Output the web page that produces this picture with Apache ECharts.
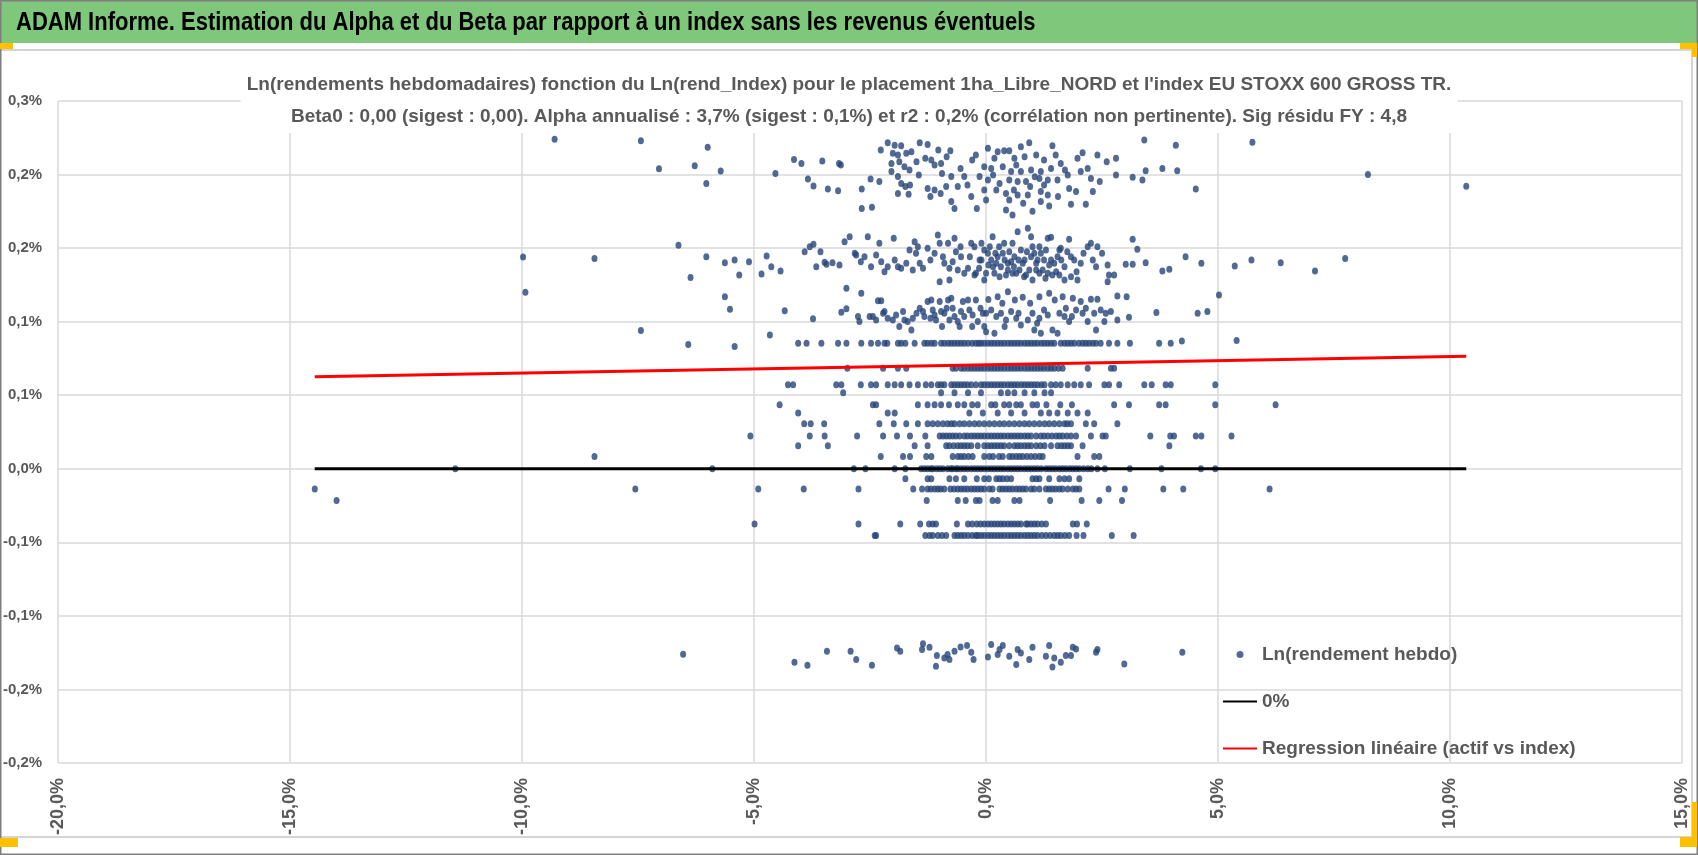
<!DOCTYPE html>
<html style="height: 100%">
<head>
<meta charset="utf-8">
<style type="text/css">
* {
	margin: 0;
	padding: 0;
}
</style>
</head>
<body style="height: 100%; margin: 0; background: #fff">
	<div id="chart" style="width: 1698px; height: 855px"></div>
	<script type="text/javascript" src="https://cdn.jsdelivr.net/npm/echarts/dist/echarts.min.js"></script>
	<script type="text/javascript">
	// valeurs en % : x = Ln(rend_Index), y = Ln(rendement hebdo)

	// nuage du haut (0,17% .. 0,23%)
	var scatterTop = [
		[-6.00,0.2185],[-5.72,0.2024],[-6.03,0.194],[-4.14,0.2103],[-3.98,0.2076],[-4.54,0.2008],[-3.53,0.2092],[-3.17,0.2076],
		[-3.13,0.2065],[-3.84,0.197],[-3.72,0.1922],[-3.41,0.1902],[-3.19,0.189],[-2.68,0.1902],[-2.49,0.197],[-2.68,0.177],
		[-2.46,0.1777],[-2.27,0.2167],[-2.12,0.2216],[-1.97,0.22],[-1.83,0.2196],[-2.01,0.2144],[-1.90,0.2133],[-1.72,0.2144],
		[-1.61,0.2155],[-1.43,0.2216],[-1.26,0.2205],[-2.04,0.2076],[-1.87,0.2087],[-1.76,0.2053],[-1.65,0.2031],[-2.04,0.202],
		[-1.90,0.1986],[-1.83,0.194],[-1.74,0.1918],[-1.64,0.1929],[-1.90,0.1872],[-1.67,0.1866],[-1.31,0.211],[-1.18,0.2099],
		[-1.03,0.2167],[-1.11,0.2065],[-0.97,0.2076],[-0.77,0.2162],[-0.95,0.2008],[-0.75,0.1986],[-0.61,0.1918],[-0.47,0.1986],
		[-1.26,0.1906],[-1.20,0.185],[-1.11,0.1895],[-0.98,0.1872],[-0.86,0.1918],[-0.75,0.1816],[-0.68,0.177],[-0.32,0.185],
		[-0.22,0.2133],[-0.14,0.1986],[-0.04,0.2053],[-0.04,0.1895],[0.00,0.1827],
		[0.04,0.2178],[0.39,0.2162],[0.50,0.2162],[0.75,0.2189],[0.93,0.2216],[1.43,0.2196],[0.18,0.211],[0.61,0.211],
		[0.83,0.2121],[1.08,0.2133],[0.11,0.2042],[0.36,0.2053],[0.54,0.202],[0.75,0.202],[0.97,0.2031],[1.18,0.202],
		[1.40,0.2042],[1.61,0.2076],[0.04,0.1963],[0.29,0.194],[0.50,0.1963],[0.68,0.1952],[0.86,0.1952],[1.15,0.1974],
		[1.33,0.1963],[1.54,0.1963],[1.76,0.1997],[2.04,0.202],[2.19,0.2042],[0.22,0.1895],[0.43,0.1872],[0.68,0.1861],
		[0.90,0.1861],[1.18,0.1884],[1.33,0.1861],[1.79,0.1906],[1.94,0.1884],[0.50,0.1827],[0.43,0.1759],[0.57,0.1725],
		[1.18,0.1816],[1.36,0.1786],[1.83,0.1798],[2.15,0.1798],[1.97,0.211],[2.08,0.2149],[2.40,0.2133],[2.80,0.211],
		[2.80,0.1997],[3.16,0.1981],[3.37,0.1963],[3.41,0.2235],[3.44,0.2026],[3.80,0.2042],[4.12,0.2026],[4.09,0.22],
		[4.52,0.1902],[5.74,0.2219],[2.26,0.1974],
		[0.25,0.2155],[0.65,0.2065],[1.25,0.2099],[1.50,0.2133],[0.15,0.1997],[0.95,0.1918],[1.05,0.1985],[1.70,0.2031],
		[1.25,0.1929],[0.60,0.1895],[-0.55,0.2042],[-0.30,0.2099],[-0.85,0.2121],[-1.45,0.1997],[-0.40,0.1929],[0.80,0.1805],
		[1.55,0.1850],[2.45,0.1952],[2.60,0.2087],[-2.30,0.1952],[-1.50,0.2087],[2.30,0.1884],[-0.20,0.1770],[1.00,0.1750],
		[-9.30,0.224],[-7.44,0.223],[-7.05,0.204],[-6.28,0.206],[8.23,0.200],[10.35,0.192]
	];

	// nuage du milieu (0,125% .. 0,165%)
	var scatterMid = [
		[-6.03,0.1442],[-5.63,0.1401],[-5.42,0.142],[-5.11,0.1408],[-5.32,0.1318],[-4.84,0.1324],[-4.73,0.1447],[-4.63,0.1374],
		[-4.43,0.1345],[-3.91,0.1476],[-3.80,0.151],[-3.72,0.1526],[-3.57,0.1476],[-3.66,0.1374],[-3.48,0.1404],[-3.44,0.139],
		[-3.31,0.1401],[-3.16,0.1386],[-3.05,0.1544],[-2.94,0.1578],[-2.83,0.1465],[-2.80,0.1453],[-2.70,0.1408],[-2.62,0.1442],
		[-2.55,0.1578],[-2.48,0.1374],[-2.37,0.1453],[-2.30,0.1533],[-2.26,0.1408],[-2.19,0.134],[-2.12,0.1374],[-1.99,0.1567],
		[-1.97,0.142],[-1.90,0.1374],[-1.83,0.1363],[-1.72,0.1397],[-1.65,0.1487],[-1.54,0.1544],[-1.51,0.1465],[-1.47,0.151],
		[-1.43,0.1397],[-1.36,0.1363],[-1.26,0.1499],[-1.11,0.1465],[-1.04,0.1589],[-1.00,0.1533],[-0.93,0.1442],[-0.90,0.1397],
		[-0.82,0.1533],[-0.79,0.1363],[-0.68,0.1567],[-0.65,0.1476],[-0.61,0.1352],[-0.54,0.1442],[-0.47,0.1329],[-0.39,0.1363],
		[-0.32,0.1533],[-0.25,0.151],[-0.22,0.1329],[-0.14,0.142],[-0.04,0.1487],[-0.04,0.1284],[-0.25,0.1318],[-1.00,0.1272],
		[-0.79,0.1284],
		[0.14,0.1578],[0.39,0.1533],[0.57,0.1533],[0.68,0.1612],[0.90,0.1635],[0.97,0.1578],[1.00,0.151],[1.33,0.1567],
		[1.40,0.1573],[1.79,0.156],[1.58,0.1487],[1.61,0.1499],[0.04,0.1465],[0.11,0.142],[0.25,0.1442],[0.32,0.1374],
		[0.47,0.1397],[0.61,0.1442],[0.75,0.1487],[0.83,0.142],[0.97,0.1442],[1.08,0.1397],[1.18,0.1465],[1.29,0.1487],
		[1.40,0.142],[1.54,0.1442],[1.69,0.1374],[1.83,0.1442],[1.90,0.142],[2.04,0.1397],[2.19,0.151],[2.26,0.1533],
		[2.40,0.151],[2.37,0.1374],[2.62,0.1386],[2.65,0.1318],[2.76,0.1318],[0.00,0.1329],[0.18,0.1329],[0.29,0.1306],
		[0.43,0.1318],[0.57,0.1329],[0.72,0.1352],[0.86,0.1318],[1.00,0.1284],[1.15,0.1329],[1.33,0.1329],[1.43,0.1318],
		[1.51,0.134],[1.69,0.1284],[1.83,0.1306],[1.97,0.1284],[2.62,0.1272],[3.01,0.139],[3.16,0.139],[3.16,0.156],
		[3.26,0.1492],[3.44,0.1401],[3.80,0.1345],[3.95,0.1356],[4.30,0.1442],[4.64,0.1397],[5.36,0.1379],[5.72,0.142],
		[0.15,0.1374],[0.36,0.1465],[0.54,0.1408],[0.65,0.1329],[0.79,0.1397],[0.93,0.1352],[1.11,0.142],[1.22,0.1352],
		[1.47,0.1397],[0.22,0.1397],[0.47,0.1352],[1.04,0.1465],
		[-0.10,0.1533],[0.08,0.1510],[0.28,0.1510],[0.50,0.1476],[0.70,0.1420],[0.88,0.1476],[1.15,0.1510],[1.25,0.1420],
		[1.36,0.1386],[1.62,0.1420],[1.75,0.1476],[0.05,0.1386],[0.40,0.1420],[0.60,0.1374],[0.82,0.1306],[1.08,0.1352],
		[1.28,0.1295],[1.58,0.1318],[-0.15,0.1363],[-0.35,0.1442],[-0.55,0.1510],[-0.72,0.1408],[-1.20,0.1420],[-1.58,0.1352],
		[2.10,0.1465],[2.30,0.1420],[2.50,0.1465],[-0.10,0.1420],[0.20,0.1465],[1.95,0.1340],
		[-9.98,0.144],[-8.44,0.143],[-6.63,0.152],[-6.37,0.130],[6.35,0.140],[7.09,0.1345],[7.74,0.143]
	];

	// nuage 0,09% .. 0,123%
	var scatterMidLow = [
		[-5.63,0.117],[-5.52,0.1084],[-4.34,0.1075],[-3.73,0.1019],[-3.12,0.1064],[-3.01,0.1087],[-3.01,0.1227],[-2.69,0.1193],
		[-2.33,0.1143],[-2.26,0.1143],[-2.76,0.1035],[-2.73,0.1001],[-2.51,0.1035],[-2.44,0.1035],[-2.37,0.1012],[-2.22,0.1057],
		[-2.19,0.1069],[-2.12,0.1024],[-2.01,0.1012],[-1.94,0.1046],[-1.87,0.0967],[-1.79,0.1069],[-1.76,0.1012],[-1.69,0.1001],
		[-1.61,0.0944],[-1.58,0.1024],[-1.43,0.1091],[-1.36,0.1069],[-1.33,0.1035],[-1.26,0.1137],[-1.18,0.1148],[-1.15,0.108],
		[-1.11,0.1046],[-1.08,0.1012],[-1.00,0.1137],[-0.97,0.1069],[-0.90,0.1057],[-0.82,0.1148],[-0.79,0.1012],[-0.75,0.1159],
		[-0.72,0.1091],[-0.68,0.1035],[-0.61,0.1001],[-0.57,0.0967],[-0.54,0.1069],[-0.47,0.1035],[-0.39,0.1148],[-0.36,0.108],
		[-0.29,0.1046],[-0.22,0.1148],[-0.18,0.1001],[-0.07,0.1057],[-0.04,0.0967],[0.00,0.0932],
		[0.25,0.117],[0.47,0.1204],[0.79,0.1166],[1.15,0.117],[1.36,0.1193],[1.65,0.117],[1.87,0.1159],[2.04,0.1137],
		[2.26,0.1152],[2.40,0.1152],[2.83,0.1175],[3.03,0.117],[0.00,0.1057],[0.11,0.108],[0.22,0.1035],[0.32,0.1057],
		[0.43,0.1012],[0.54,0.1069],[0.65,0.1024],[0.75,0.0978],[0.90,0.1012],[1.00,0.1057],[1.15,0.1024],[1.33,0.1046],
		[1.43,0.0944],[1.58,0.1057],[1.69,0.1035],[1.79,0.1001],[1.94,0.108],[2.08,0.1057],[2.19,0.1001],[2.33,0.1057],
		[2.37,0.0944],[2.47,0.108],[2.58,0.1057],[2.69,0.1069],[2.83,0.1012],[3.08,0.103],[3.67,0.1062],[4.56,0.1057],
		[4.77,0.1069],[0.18,0.0921],[1.04,0.0944],[1.18,0.0921],[1.54,0.0921],[5.02,0.1182],
		[0.05,0.1150],[0.35,0.1125],[0.62,0.1148],[0.95,0.1125],[1.25,0.1080],[1.48,0.1148],[1.72,0.1091],[2.15,0.1091],
		[-0.12,0.1091],[-0.50,0.1137],[-0.85,0.1091],[-1.20,0.1024],[-1.50,0.1057],[0.40,0.0967],[0.70,0.1057],[1.10,0.0990],
		[1.85,0.1035],[2.55,0.1001],[-0.30,0.0967],[-0.95,0.0967],
		[-9.93,0.120],[-7.44,0.094],[-5.42,0.0831],[-4.66,0.091],[4.22,0.0868],[5.40,0.0872],[-6.42,0.0845]
	];

	// nuage du bas (~ -0,13%)
	var scatterBottom = [
		[-6.53,-0.126],[-4.13,-0.1315],[-3.85,-0.1336],[-3.43,-0.1241],[-2.92,-0.1241],[-2.80,-0.1297],[-2.46,-0.1336],[-1.92,-0.1218],
		[-1.85,-0.1241],[-1.38,-0.1229],[-1.36,-0.1189],[-1.22,-0.1214],[-1.06,-0.127],[-1.08,-0.1343],[-0.90,-0.1286],[-0.83,-0.1263],
		[-0.79,-0.1297],[-0.68,-0.1241],[-0.55,-0.1211],[-0.41,-0.1202],[-0.32,-0.1247],[-0.27,-0.1297],[0.04,-0.1279],[0.11,-0.1195],
		[0.25,-0.1263],[0.29,-0.1229],[0.36,-0.1202],[0.50,-0.1275],[0.65,-0.1331],[0.68,-0.1229],[0.75,-0.1252],[0.93,-0.1297],
		[1.00,-0.1214],[1.29,-0.1275],[1.36,-0.1202],[1.43,-0.1347],[1.47,-0.1286],[1.61,-0.1315],[1.72,-0.127],[1.83,-0.127],
		[1.87,-0.1214],[1.94,-0.1225],[2.37,-0.1247],[2.40,-0.1229],[2.98,-0.1327],[4.23,-0.1247]
	];

	// rendements hebdo qui tombent sur des paliers : niveau y et les x correspondants
	var band085X = [-4.05,-3.87,-3.55,-3.19,-3.01,-2.69,-2.48,-2.33,-2.19,-2.13,-1.90,-1.83,-1.74,-1.54,-1.33,-1.26,-1.18,-1.11,-0.97,-0.90,
		-0.82,-0.75,-0.68,-0.61,-0.54,-0.47,-0.39,-0.30,-0.22,-0.16,-0.11,-0.04,0.04,0.11,0.18,0.25,0.32,0.39,0.47,0.54,0.61,0.68,
		0.75,0.83,0.90,0.97,1.04,1.11,1.19,1.26,1.33,1.40,1.47,1.61,1.69,1.76,1.83,1.90,2.00,2.08,2.15,2.22,2.30,2.37,2.47,2.65,
		2.83,3.10,3.73,3.98];
	var band068X = [-2.99,-2.22,-1.90,-1.72,-0.72,-0.65,-0.54,-0.47,-0.39,-0.32,-0.25,-0.18,-0.11,-0.04,0.04,0.11,0.18,0.25,0.32,
		0.39,0.47,0.54,0.61,0.68,0.75,0.83,0.90,0.97,1.04,1.11,1.18,1.25,1.33,1.40,1.47,1.56,1.65,2.19,2.69,2.76];
	var band057X = [-4.27,-4.16,-3.23,-3.12,-2.70,-2.48,-2.37,-2.12,-1.97,-1.83,-1.65,-1.47,-1.30,-1.18,-1.04,-0.97,-0.90,-0.75,
		-0.68,-0.61,-0.54,-0.47,-0.40,-0.32,-0.22,-0.11,-0.04,0.04,0.11,0.18,0.25,0.32,0.39,0.47,0.54,0.61,0.68,0.76,0.83,0.90,
		0.97,1.04,1.11,1.19,1.26,1.40,1.50,1.61,1.76,1.90,2.04,2.22,2.55,2.65,2.87,3.41,3.57,3.87,3.98,4.94];
	var band052X = [-3.08,-0.97,-0.68,-0.39,-0.11,0.32,0.47,0.61,0.83,1.04,1.26,1.40];
	var band044X = [-4.45,-2.44,-2.37,-1.47,-1.26,-1.11,-0.97,-0.80,-0.61,-0.47,-0.30,-0.18,0.11,0.20,0.39,0.50,0.65,0.75,1.00,1.10,
		1.30,1.60,1.85,2.76,3.08,3.73,3.87,4.94,6.24];
	var band038X = [-4.05,-2.12,-1.97,-0.36,-0.07,0.25,0.54,0.83,1.18,1.36,1.54,1.76,1.97,2.19];
	var level0306X = [-3.92,-3.78,-3.49,-2.30,-1.99,-1.72,-1.47,-1.26,-1.15,-1.04,-0.93,-0.83,-0.75,-0.68,-0.57,-0.47,-0.36,-0.25,
		-0.15,-0.04,0.07,0.18,0.29,0.39,0.50,0.61,0.72,0.83,0.93,1.04,1.15,1.26,1.36,1.47,1.58,1.69,1.75,1.83,2.15,2.33,2.83];
	var level0222X = [-5.08,-3.80,-3.48,-2.78,-2.22,-1.92,-1.64,-1.31,-1.00,-0.93,-0.86,-0.79,-0.72,-0.65,-0.57,-0.47,-0.40,-0.32,
		-0.25,-0.18,-0.11,-0.04,0.04,0.11,0.18,0.25,0.32,0.39,0.47,0.54,0.61,0.68,0.75,0.83,0.90,0.97,1.08,1.18,1.25,1.33,1.42,
		1.51,1.58,1.65,1.74,1.83,1.94,2.26,2.51,2.58,3.54,3.97,4.05,4.52,4.64,5.29];
	var level0156X = [-4.05,-3.41,-1.54,-1.26,-0.86,-0.79,-0.70,-0.61,-0.54,-0.47,-0.40,-0.32,-0.18,-0.04,0.04,0.11,0.18,0.25,
		0.32,0.39,0.50,0.61,0.68,0.75,0.83,0.90,0.97,1.08,1.17,1.26,1.40,1.54,1.62,1.69,1.76,1.83,2.08,3.95];
	var level0084X = [-8.44,-2.27,-1.79,-1.64,-1.29,-1.18,-0.72,-0.61,-0.54,-0.47,-0.38,-0.29,-0.04,0.07,0.15,0.28,0.36,0.50,
		0.57,0.65,0.72,0.79,0.88,0.97,1.06,1.15,1.22,1.97,2.33,2.44];
	var level0X = [-11.44,-5.90,-2.85,-2.60,-1.97,-1.74,-1.40,-1.33,-1.26,-1.19,-1.15,-1.07,-1.00,-0.93,-0.83,-0.76,-0.72,-0.65,
		-0.61,-0.54,-0.47,-0.40,-0.32,-0.25,-0.18,-0.11,-0.04,0.04,0.11,0.18,0.25,0.32,0.39,0.47,0.54,0.61,0.68,0.75,0.83,0.90,
		0.97,1.04,1.11,1.19,1.29,1.36,1.43,1.50,1.58,1.65,1.72,1.80,1.87,1.94,2.01,2.10,2.19,2.27,2.40,2.56,3.10,3.78,4.63,4.94];
	var levelM0068X = [-1.74,-1.26,-1.18,-0.79,-0.65,-0.47,-0.20,-0.04,0.06,0.22,0.29,0.36,0.45,0.54,1.00,1.08,1.15,1.36,1.58,
		1.69,1.79,2.01];
	var levelM0138X = [-14.47,-7.56,-4.91,-3.93,-2.75,-1.57,-1.38,-1.26,-1.19,-1.11,-1.04,-0.98,-0.90,-0.77,-0.69,-0.61,-0.54,
		-0.47,-0.40,-0.32,-0.25,-0.18,-0.11,-0.04,0.07,0.14,0.29,0.36,0.43,0.50,0.57,0.65,0.72,0.79,0.86,0.97,1.04,1.15,1.29,
		1.36,1.43,1.50,1.58,1.65,1.76,1.87,1.94,2.01,2.64,2.99,3.82,4.25,6.11];
	var levelM0215X = [-14.00,-1.28,-0.61,-0.44,-0.22,-0.14,0.14,0.25,0.61,0.72,1.38,2.06,2.44,2.93];
	var levelM0376X = [-4.99,-2.75,-1.85,-1.42,-1.23,-1.15,-1.08,-0.63,-0.39,-0.30,-0.20,-0.12,-0.04,0.04,0.11,0.18,0.25,0.32,
		0.39,0.47,0.54,0.61,0.68,0.75,0.86,0.90,0.97,1.04,1.11,1.20,1.29,1.87,1.96,2.17];
	var levelM0453X = [-2.40,-2.37,-1.31,-1.22,-1.15,-1.04,-0.95,-0.86,-0.68,-0.61,-0.54,-0.47,-0.39,-0.30,-0.22,-0.18,-0.11,
		-0.04,0.04,0.11,0.18,0.25,0.32,0.39,0.47,0.54,0.61,0.68,0.75,0.83,0.90,0.97,1.04,1.11,1.20,1.29,1.38,1.47,1.54,1.61,
		1.70,1.79,1.95,2.10,2.71,3.18];

	var levelY = [0.0854, 0.0684, 0.0571, 0.0517, 0.0435, 0.038, 0.0306, 0.0222, 0.0156, 0.0084, 0, -0.0068, -0.0138, -0.0215, -0.0376, -0.0453];
	var levelX = [band085X, band068X, band057X, band052X, band044X, band038X, level0306X, level0222X, level0156X, level0084X,
		level0X, levelM0068X, levelM0138X, levelM0215X, levelM0376X, levelM0453X];

	// droites : 0% et regression (actif vs index), de x min a x max
	var zeroLine = [[-14.47, 0], [10.35, 0]];
	var regressionLine = [[-14.47, 0.0625], [10.35, 0.0765]];

	var points = [].concat(scatterTop, scatterMid, scatterMidLow, scatterBottom);
	for (var i = 0; i < levelY.length; i++) {
		for (var j = 0; j < levelX[i].length; j++) {
			points.push([levelX[i][j], levelY[i]]);
		}
	}

	var FONT = '"Liberation Sans", Arial, sans-serif';
	var GREY = '#595959';

	function pctY(v) {
		var r = Math.round(Math.abs(v) * 10 + 1e-6) / 10;
		return ((v < 0 && r !== 0) ? '-' : '') + r.toFixed(1).replace('.', ',') + '%';
	}
	function pctX(v) {
		return v.toFixed(1).replace('.', ',') + '%';
	}

	var myChart = echarts.init(document.getElementById('chart'));

	var option = {
		backgroundColor: '#fff',
		animation: false,
		title: {
			text: "Ln(rendements hebdomadaires) fonction du Ln(rend_Index) pour le placement 1ha_Libre_NORD et l'index EU STOXX 600 GROSS TR.\nBeta0 : 0,00 (sigest : 0,00). Alpha annualisé : 3,7% (sigest : 0,1%) et r2 : 0,2% (corrélation non pertinente). Sig résidu FY : 4,8",
			left: 'center',
			top: 69,
			padding: [0, 6],
			backgroundColor: '#fff',
			textStyle: {
				fontFamily: FONT,
				fontSize: 19,
				fontWeight: 'bold',
				color: GREY,
				lineHeight: 32,
				align: 'center'
			}
		},
		legend: {
			orient: 'vertical',
			left: 1217,
			top: 640,
			itemWidth: 34,
			itemHeight: 7,
			itemGap: 28,
			textStyle: {
				fontFamily: FONT,
				fontSize: 19,
				fontWeight: 'bold',
				color: GREY
			},
			data: [
				'Ln(rendement hebdo)',
				{ name: '0%', itemStyle: { opacity: 0 } },
				{ name: 'Regression linéaire (actif vs index)', itemStyle: { opacity: 0 } }
			]
		},
		grid: {
			left: 56,
			right: 16,
			top: 101,
			bottom: 92
		},
		xAxis: {
			type: 'value',
			min: -20,
			max: 15,
			interval: 5,
			axisLine: { show: false },
			axisTick: { show: false },
			splitLine: { lineStyle: { color: '#d9d9d9', width: 1.5 } },
			axisLabel: {
				rotate: 90,
				margin: 15,
				fontFamily: FONT,
				fontSize: 18,
				fontWeight: 'bold',
				color: GREY,
				formatter: pctX
			}
		},
		yAxis: {
			type: 'value',
			min: -0.2,
			max: 0.25,
			interval: 0.05,
			axisLine: { show: false },
			axisTick: { show: false },
			splitLine: { lineStyle: { color: '#d9d9d9', width: 1.5 } },
			axisLabel: {
				margin: 16,
				fontFamily: FONT,
				fontSize: 15,
				fontWeight: 'bold',
				color: GREY,
				formatter: pctY
			}
		},
		series: [{
			name: 'Ln(rendement hebdo)',
			type: 'scatter',
			symbol: 'circle',
			symbolSize: [6, 7],
			itemStyle: { color: '#264478' },
			data: points
		}, {
			name: '0%',
			type: 'line',
			symbol: 'none',
			lineStyle: { color: '#000', width: 3 },
			itemStyle: { color: '#000' },
			data: zeroLine
		}, {
			name: 'Regression linéaire (actif vs index)',
			type: 'line',
			symbol: 'none',
			lineStyle: { color: '#ff0000', width: 3 },
			itemStyle: { color: '#ff0000' },
			data: regressionLine
		}],
		graphic: [
			// bandeau vert + titre
			{ type: 'rect', shape: { x: 0, y: 0, width: 1698, height: 43 }, style: { fill: '#7ec77b' } },
			{ type: 'text', x: 16, y: 23, scaleX: 0.88, style: {
				text: 'ADAM Informe. Estimation du Alpha et du Beta par rapport à un index sans les revenus éventuels',
				font: 'bold 25px ' + FONT, fill: '#000', verticalAlign: 'middle' } },
			// cadre du graphique
			{ type: 'polyline', shape: { points: [[0, 50], [1692, 50], [1692, 837], [0, 837]] },
				style: { stroke: '#d4d4d4', lineWidth: 2, fill: null } },
			{ type: 'rect', shape: { x: 0.75, y: 0.75, width: 1696.5, height: 853.5 },
				style: { stroke: '#7f7f7f', lineWidth: 1.5, fill: 'transparent' } },
			// poignees orange
			{ type: 'rect', shape: { x: 0, y: 43, width: 13, height: 6 }, style: { fill: '#ffc000' } },
			{ type: 'rect', shape: { x: 1680, y: 43, width: 17, height: 6 }, style: { fill: '#ffc000' } },
			{ type: 'rect', shape: { x: 1692, y: 43, width: 5, height: 14 }, style: { fill: '#ffc000' } },
			{ type: 'rect', shape: { x: 0, y: 838, width: 18, height: 9 }, style: { fill: '#ffc000' } },
			{ type: 'rect', shape: { x: 1692, y: 802, width: 5, height: 45 }, style: { fill: '#ffc000' } },
			{ type: 'rect', shape: { x: 1680, y: 837, width: 17, height: 10 }, style: { fill: '#ffc000' } }
		]
	};

	myChart.setOption(option);
	</script>
</body>
</html>
